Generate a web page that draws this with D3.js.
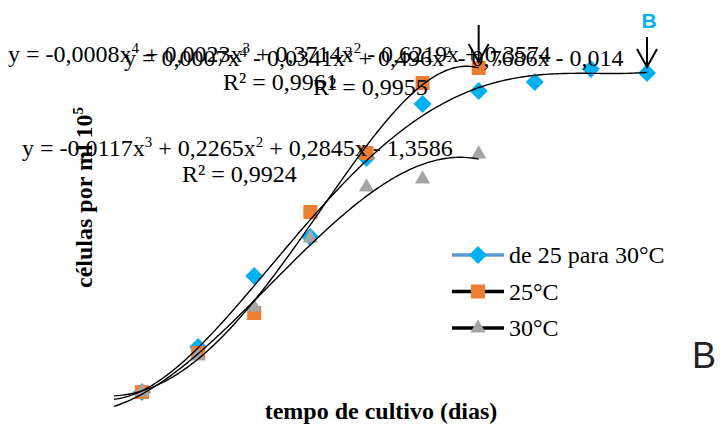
<!DOCTYPE html>
<html>
<head>
<meta charset="utf-8">
<script src="https://cdn.jsdelivr.net/npm/d3@7"></script>
<style>
  body { margin: 0; background: #fff; }
  text { font-family: "Liberation Serif", "Times New Roman", serif; }
</style>
</head>
<body>
<svg id="chart" width="726" height="426"></svg>
<script>
// dias de cultivo
var dias = [1, 2, 3, 4, 5, 6, 7, 8, 9, 10];
// células por ml (x 10^5)
var mudanca = [0.0, 2.25, 5.8, 7.75, 11.7, 14.4, 15.05, 15.5, 16.15, 15.95];
var t25 = [0.0, 1.95, 3.95, 9.0, 11.95, 15.45, 16.2];
var t30 = [0.0, 1.8, 4.25, 7.7, 10.25, 10.65, 11.9];
var nomes = ["de 25 para 30°C", "25°C", "30°C"];
var graus = [4, 4, 3];
var equacoes = [
  [["y = -0,0008x", "4"], [" + 0,0023x", "3"], [" + 0,3714x", "2"], [" - 0,6219x + 0,3574", ""]],
  [["y = 0,0007x", "4"], [" - 0,0341x", "3"], [" + 0,496x", "2"], [" - 0,7686x - 0,014", ""]],
  [["y = -0,0117x", "3"], [" + 0,2265x", "2"], [" + 0,2845x - 1,3586", ""]]
];
var r2 = ["R² = 0,9961", "R² = 0,9955", "R² = 0,9924"];
var setas = [7, 10];

var svg = d3.select("#chart");

var x = d3.scaleLinear().domain([1, 10]).range([142, 647]);
var y = d3.scaleLinear().domain([0, 16]).range([392, 72]);

var series = [
  { nome: nomes[0], v: mudanca, cor: "#00B0F0", linha: "#5B9BD5", forma: "diamond", grau: graus[0] },
  { nome: nomes[1], v: t25, cor: "#ED7D31", linha: "#000", forma: "square", grau: graus[1] },
  { nome: nomes[2], v: t30, cor: "#A5A5A5", linha: "#000", forma: "triangle", grau: graus[2] }
];

function marker(forma) {
  if (forma == "diamond") return d3.symbol(d3.symbolSquare, 162)();
  if (forma == "square") return d3.symbol(d3.symbolSquare, 196)();
  return d3.symbol(d3.symbolTriangle, 100)();
}

// ajuste polinomial por minimos quadrados
function polyfit(xs, ys, n) {
  var m = n + 1, A = [], i, j, k;
  for (i = 0; i < m; i++) {
    A[i] = [];
    for (j = 0; j < m; j++) A[i][j] = d3.sum(xs, function(xv) { return Math.pow(xv, i + j); });
    A[i][m] = d3.sum(xs, function(xv, idx) { return ys[idx] * Math.pow(xv, i); });
  }
  for (i = 0; i < m; i++) {
    var p = i;
    for (k = i + 1; k < m; k++) if (Math.abs(A[k][i]) > Math.abs(A[p][i])) p = k;
    var tmp = A[i]; A[i] = A[p]; A[p] = tmp;
    for (k = i + 1; k < m; k++) {
      var f = A[k][i] / A[i][i];
      for (j = i; j <= m; j++) A[k][j] -= f * A[i][j];
    }
  }
  var c = [];
  for (i = m - 1; i >= 0; i--) {
    var s = A[i][m];
    for (j = i + 1; j < m; j++) s -= A[i][j] * c[j];
    c[i] = s / A[i][i];
  }
  return c;
}

// marcadores
series.forEach(function(s) {
  svg.append("g").selectAll("path")
    .data(s.v)
    .enter().append("path")
    .attr("d", marker(s.forma))
    .attr("fill", s.cor)
    .attr("transform", function(d, i) {
      return "translate(" + x(dias[i]) + "," + y(d) + ")" + (s.forma == "diamond" ? " rotate(45)" : "");
    });
});

// linhas de tendencia
var line = d3.line().x(function(d) { return x(d[0]); }).y(function(d) { return y(d[1]); });
series.forEach(function(s) {
  var xs = dias.slice(0, s.v.length);
  var c = polyfit(xs, s.v, s.grau);
  var pts = d3.range(0.5, xs[xs.length - 1] + 0.001, 0.05).map(function(t) {
    return [t, d3.sum(c, function(ci, i) { return ci * Math.pow(t, i); })];
  });
  svg.append("path")
    .attr("d", line(pts))
    .attr("fill", "none")
    .attr("stroke", "#000")
    .attr("stroke-width", 1.4);
});

// equacoes
var eqPos = [[8, 62, 223, 90], [124, 66, 313, 95], [22, 156, 182, 182]];
equacoes.forEach(function(eq, k) {
  var t = svg.append("text").attr("x", eqPos[k][0]).attr("y", eqPos[k][1])
    .attr("font-size", 24).attr("fill", "#000");
  var shift = 0;
  eq.forEach(function(part) {
    t.append("tspan").attr("dy", shift).text(part[0]);
    shift = 0;
    if (part[1]) {
      t.append("tspan").attr("dy", -9).attr("font-size", 15).text(part[1]);
      shift = 9;
    }
  });
  svg.append("text").attr("x", eqPos[k][2]).attr("y", eqPos[k][3])
    .attr("font-size", 24).attr("fill", "#000").text(r2[k]);
});

// setas
setas.forEach(function(d, i) {
  var cx = x(d), top = i == 0 ? 25 : 37, tip = i == 0 ? 62 : 67;
  var g = svg.append("g").attr("stroke", "#000").attr("stroke-width", 2).attr("fill", "none");
  g.append("line").attr("x1", cx).attr("x2", cx).attr("y1", top).attr("y2", tip);
  g.append("path").attr("d", "M" + (cx - 10) + "," + (tip - 18) + "L" + cx + "," + tip + "L" + (cx + 10) + "," + (tip - 18));
});

svg.append("text").attr("x", x(10) + 2).attr("y", 28).attr("text-anchor", "middle")
  .style("font-family", "'Liberation Sans', Arial, sans-serif").attr("font-weight", "bold")
  .attr("font-size", 21).attr("fill", "#00B0F0").text("B");

// legenda
var leg = svg.append("g").selectAll("g").data(series).enter().append("g")
  .attr("transform", function(d, i) { return "translate(0," + (255 + i * 36.5) + ")"; });
leg.append("line").attr("x1", 452).attr("x2", 504)
  .attr("stroke", function(d) { return d.linha; }).attr("stroke-width", 3.5);
leg.append("path")
  .attr("d", function(d) { return marker(d.forma); })
  .attr("fill", function(d) { return d.cor; })
  .attr("transform", function(d) { return "translate(478,0)" + (d.forma == "diamond" ? " rotate(45)" : ""); });
leg.append("text").attr("x", 509).attr("y", 8).attr("font-size", 24).text(function(d) { return d.nome; });

// titulos dos eixos
svg.append("text").attr("x", 381).attr("y", 419).attr("text-anchor", "middle")
  .attr("font-size", 24).attr("font-weight", "bold").text("tempo de cultivo (dias)");
var yt = svg.append("text").attr("transform", "translate(92,288) rotate(-90)")
  .attr("font-size", 24).attr("font-weight", "bold");
yt.append("tspan").text("células por ml 10");
yt.append("tspan").attr("dy", -9).attr("font-size", 15).text("5");

svg.append("text").attr("x", 692).attr("y", 368)
  .style("font-family", "'Liberation Sans', Arial, sans-serif")
  .attr("font-size", 36).attr("fill", "#222").text("B");
</script>
</body>
</html>
